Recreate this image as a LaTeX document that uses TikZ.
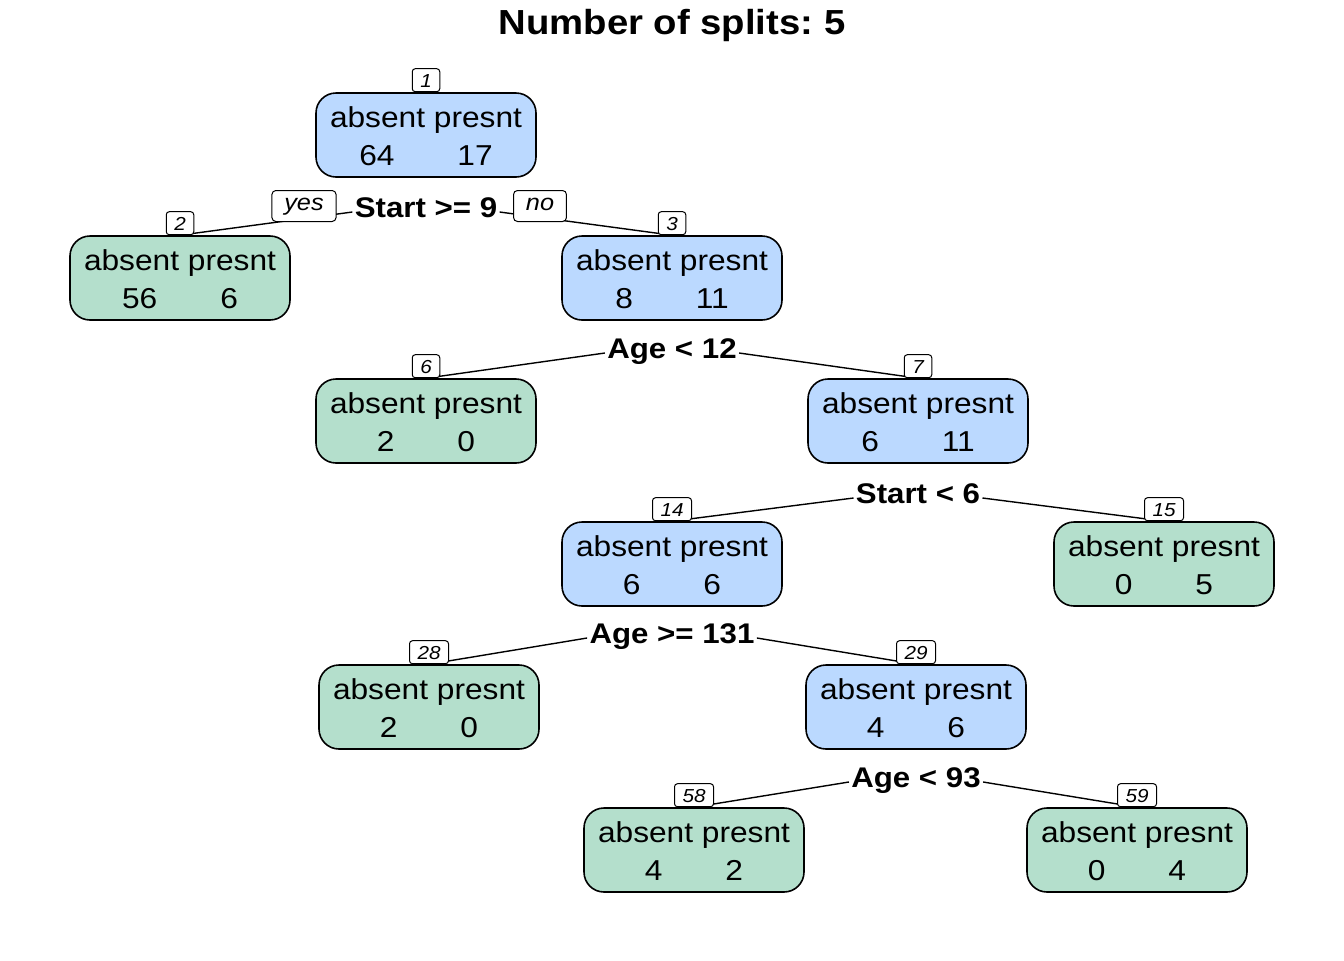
\documentclass[tikz,border=0pt]{standalone}
\usepackage{fontspec}
\setmainfont{Liberation Sans}[FakeStretch=1.1]
\frenchspacing
\usetikzlibrary{backgrounds}
\definecolor{nodeblue}{RGB}{187,217,255}
\definecolor{leafgreen}{RGB}{180,223,204}
\tikzset{
  treebox/.style={draw=black, line width=0.8pt, rounded corners=10pt,
    minimum width=110pt, minimum height=42pt, inner sep=0pt},
  splitbox/.style={treebox, fill=nodeblue},
  leafbox/.style={treebox, fill=leafgreen},
  counts/.style={inner sep=0pt, font=\fontsize{14.4}{19}\selectfont},
  idbox/.style={draw=black, line width=0.5pt, fill=white, rounded corners=1.5pt,
    inner xsep=4pt, inner ysep=0pt, minimum height=11.5pt, text height=6.8pt,
    text depth=0pt, font=\fontsize{9.4}{10}\selectfont\itshape, anchor=south},
  splitlabel/.style={inner xsep=1pt, inner ysep=0pt,
    font=\fontsize{14.2}{17}\selectfont\bfseries, anchor=base},
  yesno/.style={draw=black, line width=0.5pt, fill=white, rounded corners=2pt,
    inner xsep=6.2pt, inner ysep=0pt, minimum height=15.5pt, text height=6pt,
    text depth=2pt, font=\fontsize{11.5}{13}\selectfont\itshape},
  branch/.style={line width=0.7pt, draw=black},
  titlestyle/.style={font=\fontsize{17.4}{20}\selectfont\bfseries, anchor=base, inner sep=0pt}
}
\newcommand\treenode[7]{%
  \node[#2] (#1) at (#3,#4) {};
  \node[counts] (#1t) at ([yshift=-1.85pt]#1.center)
    {\begin{tabular}{@{}c@{}}absent presnt\\ #6\hspace{31.5pt}#7\end{tabular}};
  \node[idbox] (#1id) at (#1.north) {#5};
}
\begin{document}
\begin{tikzpicture}[x=0.5pt, y=-0.5pt]
\path[use as bounding box] (0,0) rectangle (1344,960);

\node[titlestyle] (title) at (672,34) {Number of splits: 5};

\treenode{n1}{splitbox}{426}{135}{1}{64}{17}
\treenode{n2}{leafbox}{180}{278}{2}{56}{6}
\treenode{n3}{splitbox}{672}{278}{3}{8}{11}
\treenode{n6}{leafbox}{426}{421}{6}{2}{0}
\treenode{n7}{splitbox}{918}{421}{7}{6}{11}
\treenode{n14}{splitbox}{672}{564}{14}{6}{6}
\treenode{n15}{leafbox}{1164}{564}{15}{0}{5}
\treenode{n28}{leafbox}{429}{707}{28}{2}{0}
\treenode{n29}{splitbox}{916}{707}{29}{4}{6}
\treenode{n58}{leafbox}{694}{850}{58}{4}{2}
\treenode{n59}{leafbox}{1137}{850}{59}{0}{4}

\node[splitlabel] (s1) at (426,217) {Start >= 9};
\node[splitlabel] (s3) at (672,358) {Age < 12};
\node[splitlabel] (s7) at (918,503) {Start < 6};
\node[splitlabel] (s14) at (672,643) {Age >= 131};
\node[splitlabel] (s29) at (916,787) {Age < 93};

\begin{pgfonlayer}{background}
  \fill[white] (0,0) rectangle (1344,960);
  \draw[branch] ([yshift=2.5pt]s1.base west) -- (n2.north);
  \draw[branch] ([yshift=2.5pt]s1.base east) -- (n3.north);
  \draw[branch] ([yshift=2.5pt]s3.base west) -- (n6.north);
  \draw[branch] ([yshift=2.5pt]s3.base east) -- (n7.north);
  \draw[branch] ([yshift=2.5pt]s7.base west) -- (n14.north);
  \draw[branch] ([yshift=2.5pt]s7.base east) -- (n15.north);
  \draw[branch] ([yshift=2.5pt]s14.base west) -- (n28.north);
  \draw[branch] ([yshift=2.5pt]s14.base east) -- (n29.north);
  \draw[branch] ([yshift=2.5pt]s29.base west) -- (n58.north);
  \draw[branch] ([yshift=2.5pt]s29.base east) -- (n59.north);
\end{pgfonlayer}

\node[yesno] (yes) at (304,206) {yes};
\node[yesno] (no) at (540,206) {no};
\end{tikzpicture}
\end{document}
